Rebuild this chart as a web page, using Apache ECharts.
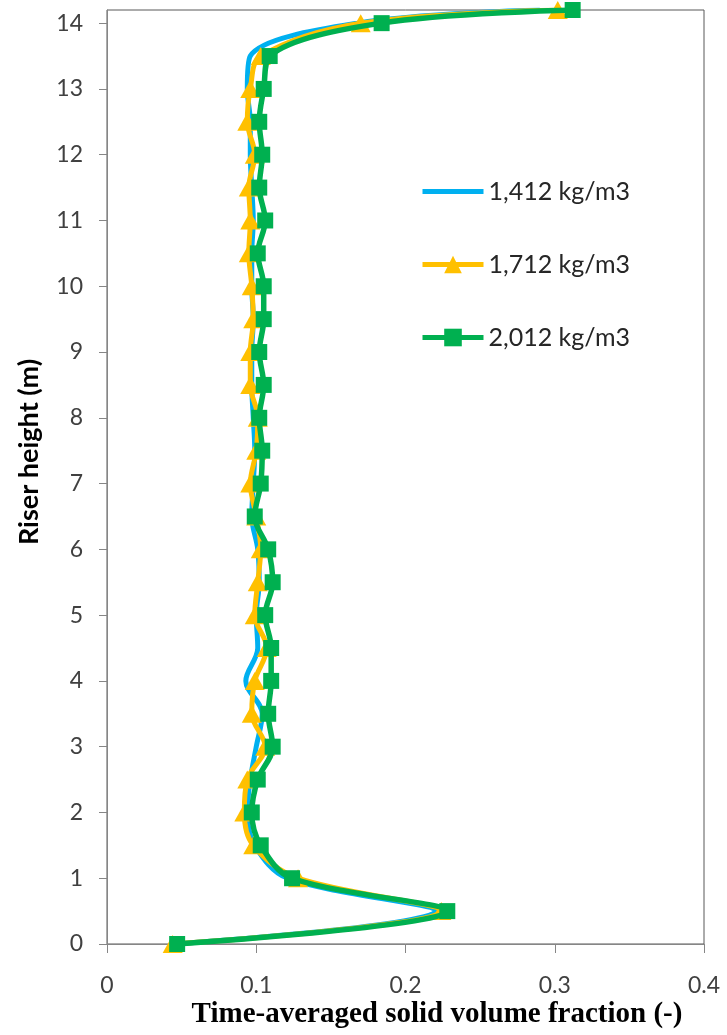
<!DOCTYPE html>
<html>
<head>
<meta charset="utf-8">
<script src="https://cdn.jsdelivr.net/npm/echarts@6/dist/echarts.min.js"></script>
<style>
  html, body { margin: 0; padding: 0; background: #ffffff; }
  #chart { width: 727px; height: 1035px; }
</style>
</head>
<body>
<div id="chart"></div>
<script>
// Riser heights (m) at which the solid fraction was sampled
const heights = [0, 0.5, 1, 1.5, 2, 2.5, 3, 3.5, 4, 4.5, 5, 5.5, 6, 6.5, 7, 7.5,
                 8, 8.5, 9, 9.5, 10, 10.5, 11, 11.5, 12, 12.5, 13, 13.5, 14, 14.2];

// Time-averaged solid volume fraction for each particle density
const frac1412 = [0.046, 0.220, 0.121, 0.099, 0.094, 0.096, 0.100, 0.104, 0.093, 0.101,
                  0.100, 0.102, 0.101, 0.097, 0.098, 0.099, 0.098, 0.097, 0.097, 0.098,
                  0.097, 0.097, 0.098, 0.097, 0.096, 0.096, 0.094, 0.096, 0.168, 0.290];
const frac1712 = [0.044, 0.224, 0.128, 0.098, 0.092, 0.094, 0.106, 0.097, 0.099, 0.107,
                  0.099, 0.101, 0.103, 0.100, 0.096, 0.100, 0.101, 0.096, 0.096, 0.098,
                  0.097, 0.095, 0.096, 0.095, 0.099, 0.094, 0.096, 0.103, 0.170, 0.302];
const frac2012 = [0.047, 0.228, 0.124, 0.103, 0.097, 0.101, 0.111, 0.108, 0.110, 0.110,
                  0.106, 0.111, 0.108, 0.099, 0.103, 0.104, 0.102, 0.105, 0.102, 0.105,
                  0.105, 0.101, 0.106, 0.102, 0.104, 0.102, 0.105, 0.109, 0.184, 0.312];

const seriesNames = ['1,412 kg/m3', '1,712 kg/m3', '2,012 kg/m3'];

// Axis tick values
const xTicks = [0, 0.1, 0.2, 0.3, 0.4];
const yTicks = [0, 1, 2, 3, 4, 5, 6, 7, 8, 9, 10, 11, 12, 13, 14];

const xTitle = 'Time-averaged solid volume fraction (-)';
const yTitle = 'Riser height (m)';

function pairs(xs) {
  return xs.map((x, i) => [x, heights[i]]);
}

const tickFont = { fontFamily: 'Lato', fontSize: 23, color: '#404040' };

const chart = echarts.init(document.getElementById('chart'), null, { renderer: 'canvas' });

chart.setOption({
  animation: false,
  backgroundColor: '#ffffff',
  grid: {
    left: 107, right: 23, top: 10, bottom: 91,
    show: true, borderColor: '#595959', borderWidth: 1, backgroundColor: 'transparent'
  },
  xAxis: {
    type: 'value',
    min: 0, max: 0.4, interval: 0.1,
    axisLine: { show: true, onZero: false, lineStyle: { color: '#868686', width: 1 } },
    axisTick: { show: true, inside: false, length: 9, lineStyle: { color: '#868686' }, customValues: xTicks },
    axisLabel: Object.assign({ margin: 30, customValues: xTicks, formatter: v => String(v) }, tickFont),
    splitLine: { show: false }
  },
  yAxis: {
    type: 'value',
    min: 0, max: 14.2, interval: 1,
    axisLine: { show: true, onZero: false, lineStyle: { color: '#868686', width: 1 } },
    axisTick: { show: true, inside: false, length: 8, lineStyle: { color: '#868686' }, customValues: yTicks },
    axisLabel: Object.assign({ margin: 24, customValues: yTicks, formatter: v => String(v) }, tickFont),
    splitLine: { show: false }
  },
  legend: {
    orient: 'vertical',
    left: 420, top: 179, padding: 0,
    itemWidth: 61, itemHeight: 22, itemGap: 48,
    lineStyle: { width: 5 },
    textStyle: { fontFamily: 'Lato', fontSize: 25, color: '#262626', lineHeight: 22 },
    data: [
      // plain line entry: no marker on this series
      { name: seriesNames[0], itemStyle: { opacity: 0 } },
      { name: seriesNames[1] },
      { name: seriesNames[2] }
    ]
  },
  graphic: [
    {
      type: 'text', x: 437, y: 1015,
      style: {
        text: xTitle, fill: '#000000',
        font: 'bold 29px "Liberation Serif", "Times New Roman", serif',
        align: 'center', verticalAlign: 'middle'
      }
    },
    {
      type: 'text', x: 29, y: 452, rotation: Math.PI / 2,
      style: {
        text: yTitle, fill: '#000000',
        font: 'bold 27px Lato, sans-serif',
        align: 'center', verticalAlign: 'middle'
      }
    }
  ],
  series: [
    {
      name: seriesNames[0], type: 'line', smooth: 0.35,
      data: pairs(frac1412),
      symbol: 'none',
      lineStyle: { color: '#00B0F0', width: 5 },
      itemStyle: { color: '#00B0F0' },
      z: 2
    },
    {
      name: seriesNames[1], type: 'line', smooth: 0.35,
      data: pairs(frac1712),
      symbol: 'triangle', symbolSize: [20, 18], showAllSymbol: true,
      lineStyle: { color: '#FFC000', width: 5 },
      itemStyle: { color: '#FFC000', borderWidth: 0 },
      z: 3
    },
    {
      name: seriesNames[2], type: 'line', smooth: 0.35,
      data: pairs(frac2012),
      symbol: 'rect', symbolSize: 16, showAllSymbol: true,
      lineStyle: { color: '#00B050', width: 5.5 },
      itemStyle: { color: '#00B050', borderWidth: 0 },
      z: 4
    }
  ]
});
</script>
</body>
</html>
